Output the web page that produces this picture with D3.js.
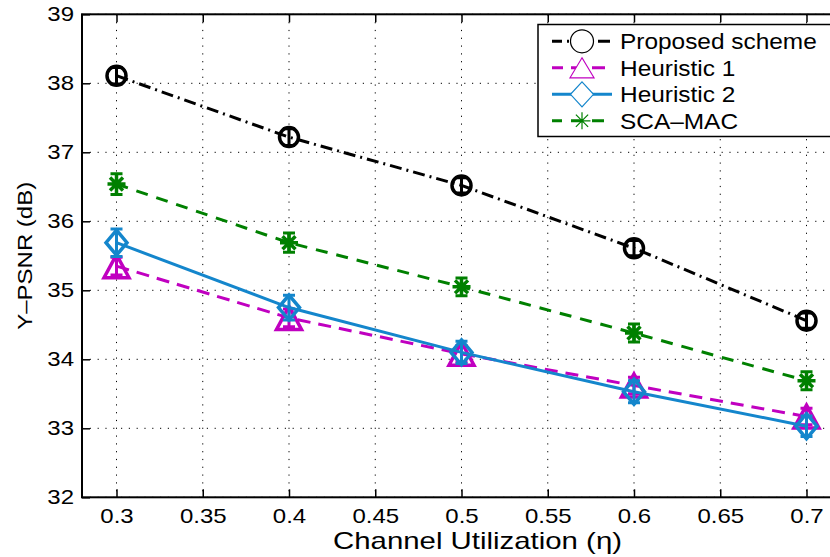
<!DOCTYPE html>
<html>
<head>
<meta charset="utf-8">
<script src="https://cdn.jsdelivr.net/npm/d3@7"></script>
<style>
  body { margin: 0; background: #fff; }
  svg { display: block; font-family: "Liberation Sans", Arial, Helvetica, sans-serif; }
</style>
</head>
<body>
<svg id="chart" width="830" height="557"></svg>
<script>
// values
const utilization = [0.3, 0.4, 0.5, 0.6, 0.7];
const proposed   = [38.11, 37.22, 36.52, 35.61, 34.56];
const heuristic1 = [35.35, 34.60, 34.08, 33.62, 33.17];
const heuristic2 = [35.69, 34.75, 34.10, 33.53, 33.03];
const scaMac     = [36.54, 35.69, 35.05, 34.38, 33.69];
const proposedErr   = [0.12, 0.12, 0.11, 0.11, 0.11];
const heuristic1Err = [0.13, 0.13, 0.12, 0.12, 0.12];
const heuristic2Err = [0.2, 0.18, 0.16, 0.16, 0.15];
const scaMacErr     = [0.15, 0.14, 0.13, 0.13, 0.13];
const xTicks = [0.3, 0.35, 0.4, 0.45, 0.5, 0.55, 0.6, 0.65, 0.7];
const yTicks = [32, 33, 34, 35, 36, 37, 38, 39];
const seriesNames = ["Proposed scheme", "Heuristic 1", "Heuristic 2", "SCA\u2013MAC"];

const pLeft = 82, pRight = 841, pTop = 14.3, pBottom = 497.3;
const svg = d3.select("#chart");

let x = d3.scaleLinear().domain([0.28, 0.72]).range([pLeft, pRight]);
let y = d3.scaleLinear().domain([32, 39]).range([pBottom, pTop]);

// dotted grid
let grid = svg.append("g").attr("stroke", "#000").attr("stroke-width", 1).attr("stroke-dasharray", "1.2,6.6");
grid.selectAll(".gx").data(xTicks).enter().append("line")
  .attr("x1", d => x(d)).attr("x2", d => x(d)).attr("y1", pTop).attr("y2", pBottom);
grid.selectAll(".gy").data(yTicks).enter().append("line")
  .attr("y1", d => y(d)).attr("y2", d => y(d)).attr("x1", pLeft).attr("x2", pRight);

// axes, ticks pointing inward
let xAxis = svg.append("g").attr("transform", `translate(0,${pBottom})`)
  .call(d3.axisBottom(x).tickValues(xTicks).tickSizeInner(-8).tickSizeOuter(0).tickPadding(12).tickFormat(d3.format("")));
let yAxis = svg.append("g").attr("transform", `translate(${pLeft},0)`)
  .call(d3.axisLeft(y).tickValues(yTicks).tickSizeInner(-8).tickSizeOuter(0).tickPadding(8).tickFormat(d3.format("d")));
svg.append("g").attr("transform", `translate(0,${pTop})`)
  .call(d3.axisTop(x).tickValues(xTicks).tickSizeInner(-8).tickSizeOuter(0).tickFormat(""));
svg.append("g").attr("transform", `translate(${pRight},0)`)
  .call(d3.axisRight(y).tickValues(yTicks).tickSizeInner(-8).tickSizeOuter(0).tickFormat(""));

svg.selectAll(".domain").remove();
svg.selectAll(".tick line").attr("stroke", "#000").attr("stroke-width", 1.5);
xAxis.selectAll("text").attr("font-size", 20).attr("fill", "#000")
  .attr("transform", "scale(1.2,1)");
yAxis.selectAll("text").attr("font-size", 20).attr("fill", "#000")
  .attr("x", 0).attr("transform", "translate(-8,0) scale(1.2,1)");

svg.append("rect").attr("x", pLeft).attr("y", pTop)
  .attr("width", pRight - pLeft).attr("height", pBottom - pTop)
  .attr("fill", "none").attr("stroke", "#000").attr("stroke-width", 2);

// markers
let markerPath = (type, big) => {
  if (type == "circle") {
    let r = big ? 9.5 : 11.5;
    return `M${-r},0A${r},${r} 0 1,0 ${r},0A${r},${r} 0 1,0 ${-r},0Z`;
  } else if (type == "triangle") {
    let w = big ? 12.5 : 12, h = big ? 11.5 : 10;
    return `M0,${-h}L${w},${h}L${-w},${h}Z`;
  } else if (type == "diamond") {
    let w = big ? 10.5 : 11.5, h = 12.5;
    return `M0,${-h}L${w},0L0,${h}L${-w},0Z`;
  } else {
    let s = big ? 9 : 8.5, d = s * 0.72;
    return `M${-s},0L${s},0M0,${-s}L0,${s}M${-d},${-d}L${d},${d}M${-d},${d}L${d},${-d}`;
  }
};

let series = [
  { name: seriesNames[0], values: proposed, err: proposedErr, color: "#000", dash: "12,5,2,5", marker: "circle" },
  { name: seriesNames[1], values: heuristic1, err: heuristic1Err, color: "#c000c0", dash: "13,8", marker: "triangle" },
  { name: seriesNames[2], values: heuristic2, err: heuristic2Err, color: "#1486cc", dash: null, marker: "diamond" },
  { name: seriesNames[3], values: scaMac, err: scaMacErr, color: "#008000", dash: "12,9", marker: "asterisk" }
];

let line = d3.line().x(d => x(d[0])).y(d => y(d[1]));

series.forEach(s => {
  let pts = utilization.map((u, i) => [u, s.values[i], s.err[i]]);
  let g = svg.append("g");
  g.append("path").datum(pts).attr("d", line)
    .attr("fill", "none").attr("stroke", s.color).attr("stroke-width", 3)
    .attr("stroke-dasharray", s.dash);
  // error bars
  pts.forEach(p => {
    let cx = x(p[0]), y0 = y(p[1] - p[2]), y1 = y(p[1] + p[2]);
    g.append("path")
      .attr("d", `M${cx},${y0}L${cx},${y1}M${cx - 6},${y0}L${cx + 6},${y0}M${cx - 6},${y1}L${cx + 6},${y1}`)
      .attr("stroke", s.color).attr("stroke-width", 3).attr("fill", "none");
  });
  g.selectAll(".mk").data(pts).enter().append("path")
    .attr("transform", d => `translate(${x(d[0])},${y(d[1])})`)
    .attr("d", markerPath(s.marker, true))
    .attr("fill", "none").attr("stroke", s.color).attr("stroke-width", 3.5)
    .attr("stroke-linejoin", "miter");
});

// legend
let legend = svg.append("g");
legend.append("rect").attr("x", 538).attr("y", 24.5).attr("width", 298).attr("height", 112)
  .attr("fill", "#fff").attr("stroke", "#000").attr("stroke-width", 1.5);
series.forEach((s, i) => {
  let ly = 41.3 + i * 26.5;
  legend.append("line").attr("x1", 552).attr("x2", 612).attr("y1", ly).attr("y2", ly)
    .attr("stroke", s.color).attr("stroke-width", 3).attr("stroke-dasharray", s.dash)
    .attr("stroke-dashoffset", s.dash ? 2 : 0);
  legend.append("path").attr("transform", `translate(582,${ly})`)
    .attr("d", markerPath(s.marker, false))
    .attr("fill", "#fff").attr("stroke", s.color).attr("stroke-width", 1.2);
  legend.append("text").attr("transform", `translate(620,${ly + 8}) scale(1.11,1)`)
    .attr("font-size", 22).attr("fill", "#000").text(s.name);
});

// axis labels
svg.append("text")
  .attr("x", (pLeft + pRight) / 2 + 16).attr("y", 549)
  .attr("text-anchor", "middle").attr("font-size", 24)
  .attr("textLength", 289).attr("lengthAdjust", "spacingAndGlyphs")
  .text("Channel Utilization (\u03b7)");
svg.append("text")
  .attr("transform", `translate(32,${(pTop + pBottom) / 2}) rotate(-90)`)
  .attr("text-anchor", "middle").attr("font-size", 20)
  .attr("textLength", 148).attr("lengthAdjust", "spacingAndGlyphs")
  .text("Y\u2013PSNR (dB)");
</script>
</body>
</html>
